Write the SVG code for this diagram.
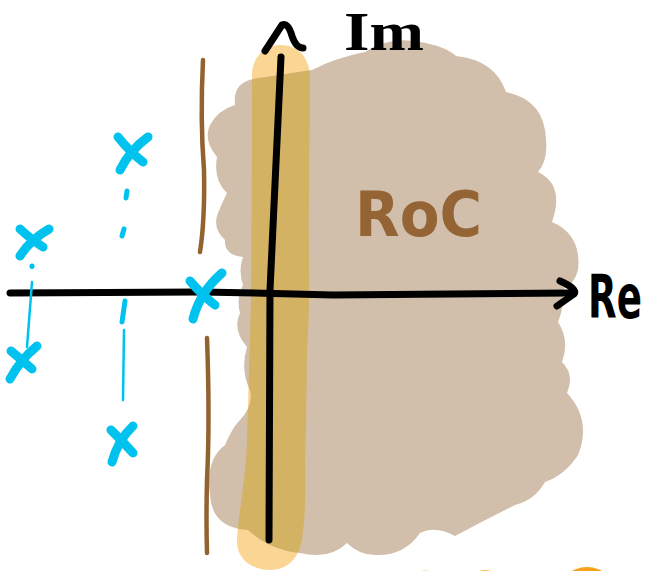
<svg xmlns="http://www.w3.org/2000/svg" width="649" height="571" viewBox="0 0 649 571">
<style>
.ink{fill:none;stroke:#000;stroke-width:7;stroke-linecap:round;stroke-linejoin:round}
.blue{fill:none;stroke:#00c2ef;stroke-width:9;stroke-linecap:round;stroke-linejoin:round}
.thin{fill:none;stroke:#00c2ef;stroke-width:2.5;stroke-linecap:round}
.dash{fill:none;stroke:#00c2ef;stroke-width:5;stroke-linecap:round}
.brown{fill:none;stroke:#93632f;stroke-width:4.5;stroke-linecap:round}
.lbl{font-family:"DejaVu Sans","Liberation Sans",sans-serif;font-weight:bold}
</style>
<defs>
<path id="blobShape" d="M 235,105 Q 232,80 260,78 L 312,70 Q 335,58 365,52 Q 390,36 420,42 Q 445,46 456,56 Q 495,60 506,92 Q 545,100 546,140 Q 548,160 538,172 Q 565,185 552,222 Q 582,235 578,270 Q 574,285 562,290 Q 565,305 558,322 Q 570,340 562,362 Q 575,375 567,393 Q 592,420 578,455 Q 565,475 545,482 Q 535,500 515,505 Q 485,520 455,536 Q 435,525 420,533 Q 405,555 378,555 Q 360,556 347,543 Q 330,560 300,553 Q 270,550 248,530 Q 212,528 210,495 Q 205,460 225,445 Q 232,428 240,420 Q 254,405 250,390 Q 240,370 247,347 Q 232,330 240,313 Q 236,298 243,285 Q 238,270 243,257 Q 224,255 225,240 Q 212,228 218,213 Q 222,203 227,193 Q 213,180 217,157 Q 203,140 210,125 Q 218,110 235,105 Z"/>
<path id="stripShape" d="M 252,78 C 251,58 264,45 281,45 C 298,45 311,58 310,80 L 309,200 C 308,250 311,300 307,350 L 306,430 C 304,470 307,505 303,530 C 302,555 290,570 270,570 C 250,570 236,557 237,540 C 238,515 246,480 247,440 L 251,300 C 252,200 252,140 252,78 Z"/>
<clipPath id="blobClip"><use href="#blobShape"/></clipPath>
</defs>

<g id="roc-region">
<use href="#stripShape" fill="#fbd594"/>
<use href="#blobShape" fill="#d1bfab"/>
<use href="#stripShape" fill="#d3b264" clip-path="url(#blobClip)"/>
</g>

<g id="bottom-marks">
<circle cx="587" cy="597" r="30" fill="#f7a21b"/>
<ellipse cx="485" cy="575" rx="10" ry="5" fill="#f9b84a"/>
<ellipse cx="425" cy="574" rx="6" ry="4" fill="#fde4b8"/>
</g>

<g id="roc-boundaries">
<path class="brown" d="M 203,60 Q 200,120 204,170 Q 205,220 200,252"/>
<path class="brown" d="M 207,338 Q 210,420 207,480 Q 206,520 207,553"/>
</g>

<g id="connectors">
<path class="ink" d="M 10,293 L 200,292 Q 270,293 333,295 L 570,293"/>
<path class="ink" d="M 560,281 Q 578,289 574,294 L 557,306"/>
<path class="ink" d="M 281,57 Q 276,170 270,290 L 269,540"/>
<path class="ink" d="M 265,51 L 282,25 Q 288,22 292,36 Q 296,48 303,48"/>
</g>

<g id="poles">
<path class="blue" d="M 118,137 Q 130,152 143,162 M 148,137 Q 130,150 120,170"/>
<path class="blue" d="M 20,229 Q 32,240 43,247 M 49,229 Q 30,240 20,256"/>
<path class="blue" d="M 11,351 Q 22,360 32,369 M 37,346 Q 20,360 10,379"/>
<path class="blue" d="M 111,430 Q 124,443 133,453 M 133,426 Q 118,440 112,462"/>
<path class="blue" d="M 190,281 Q 203,296 215,305 M 222,273 Q 200,292 193,319"/>
<path class="dash" d="M 127,191 L 126,198 M 124,229 L 122,236 M 32,266 L 32,266.5 M 125,301 L 122,322"/>
<path class="thin" d="M 32,282 L 27,347 M 124,330 L 123,400"/>
</g>

<g id="label-im"><text class="lbl" x="344" y="50" font-size="54" textLength="80" lengthAdjust="spacingAndGlyphs" style="font-family:'Liberation Serif',serif">Im</text></g>
<g id="label-re"><text class="lbl" transform="translate(588,318) scale(0.62,1)" x="0" y="0" font-size="60">Re</text></g>
<g id="label-roc"><text class="lbl" x="355" y="236" font-size="62" textLength="127" lengthAdjust="spacingAndGlyphs" fill="#946434">RoC</text></g>
</svg>
